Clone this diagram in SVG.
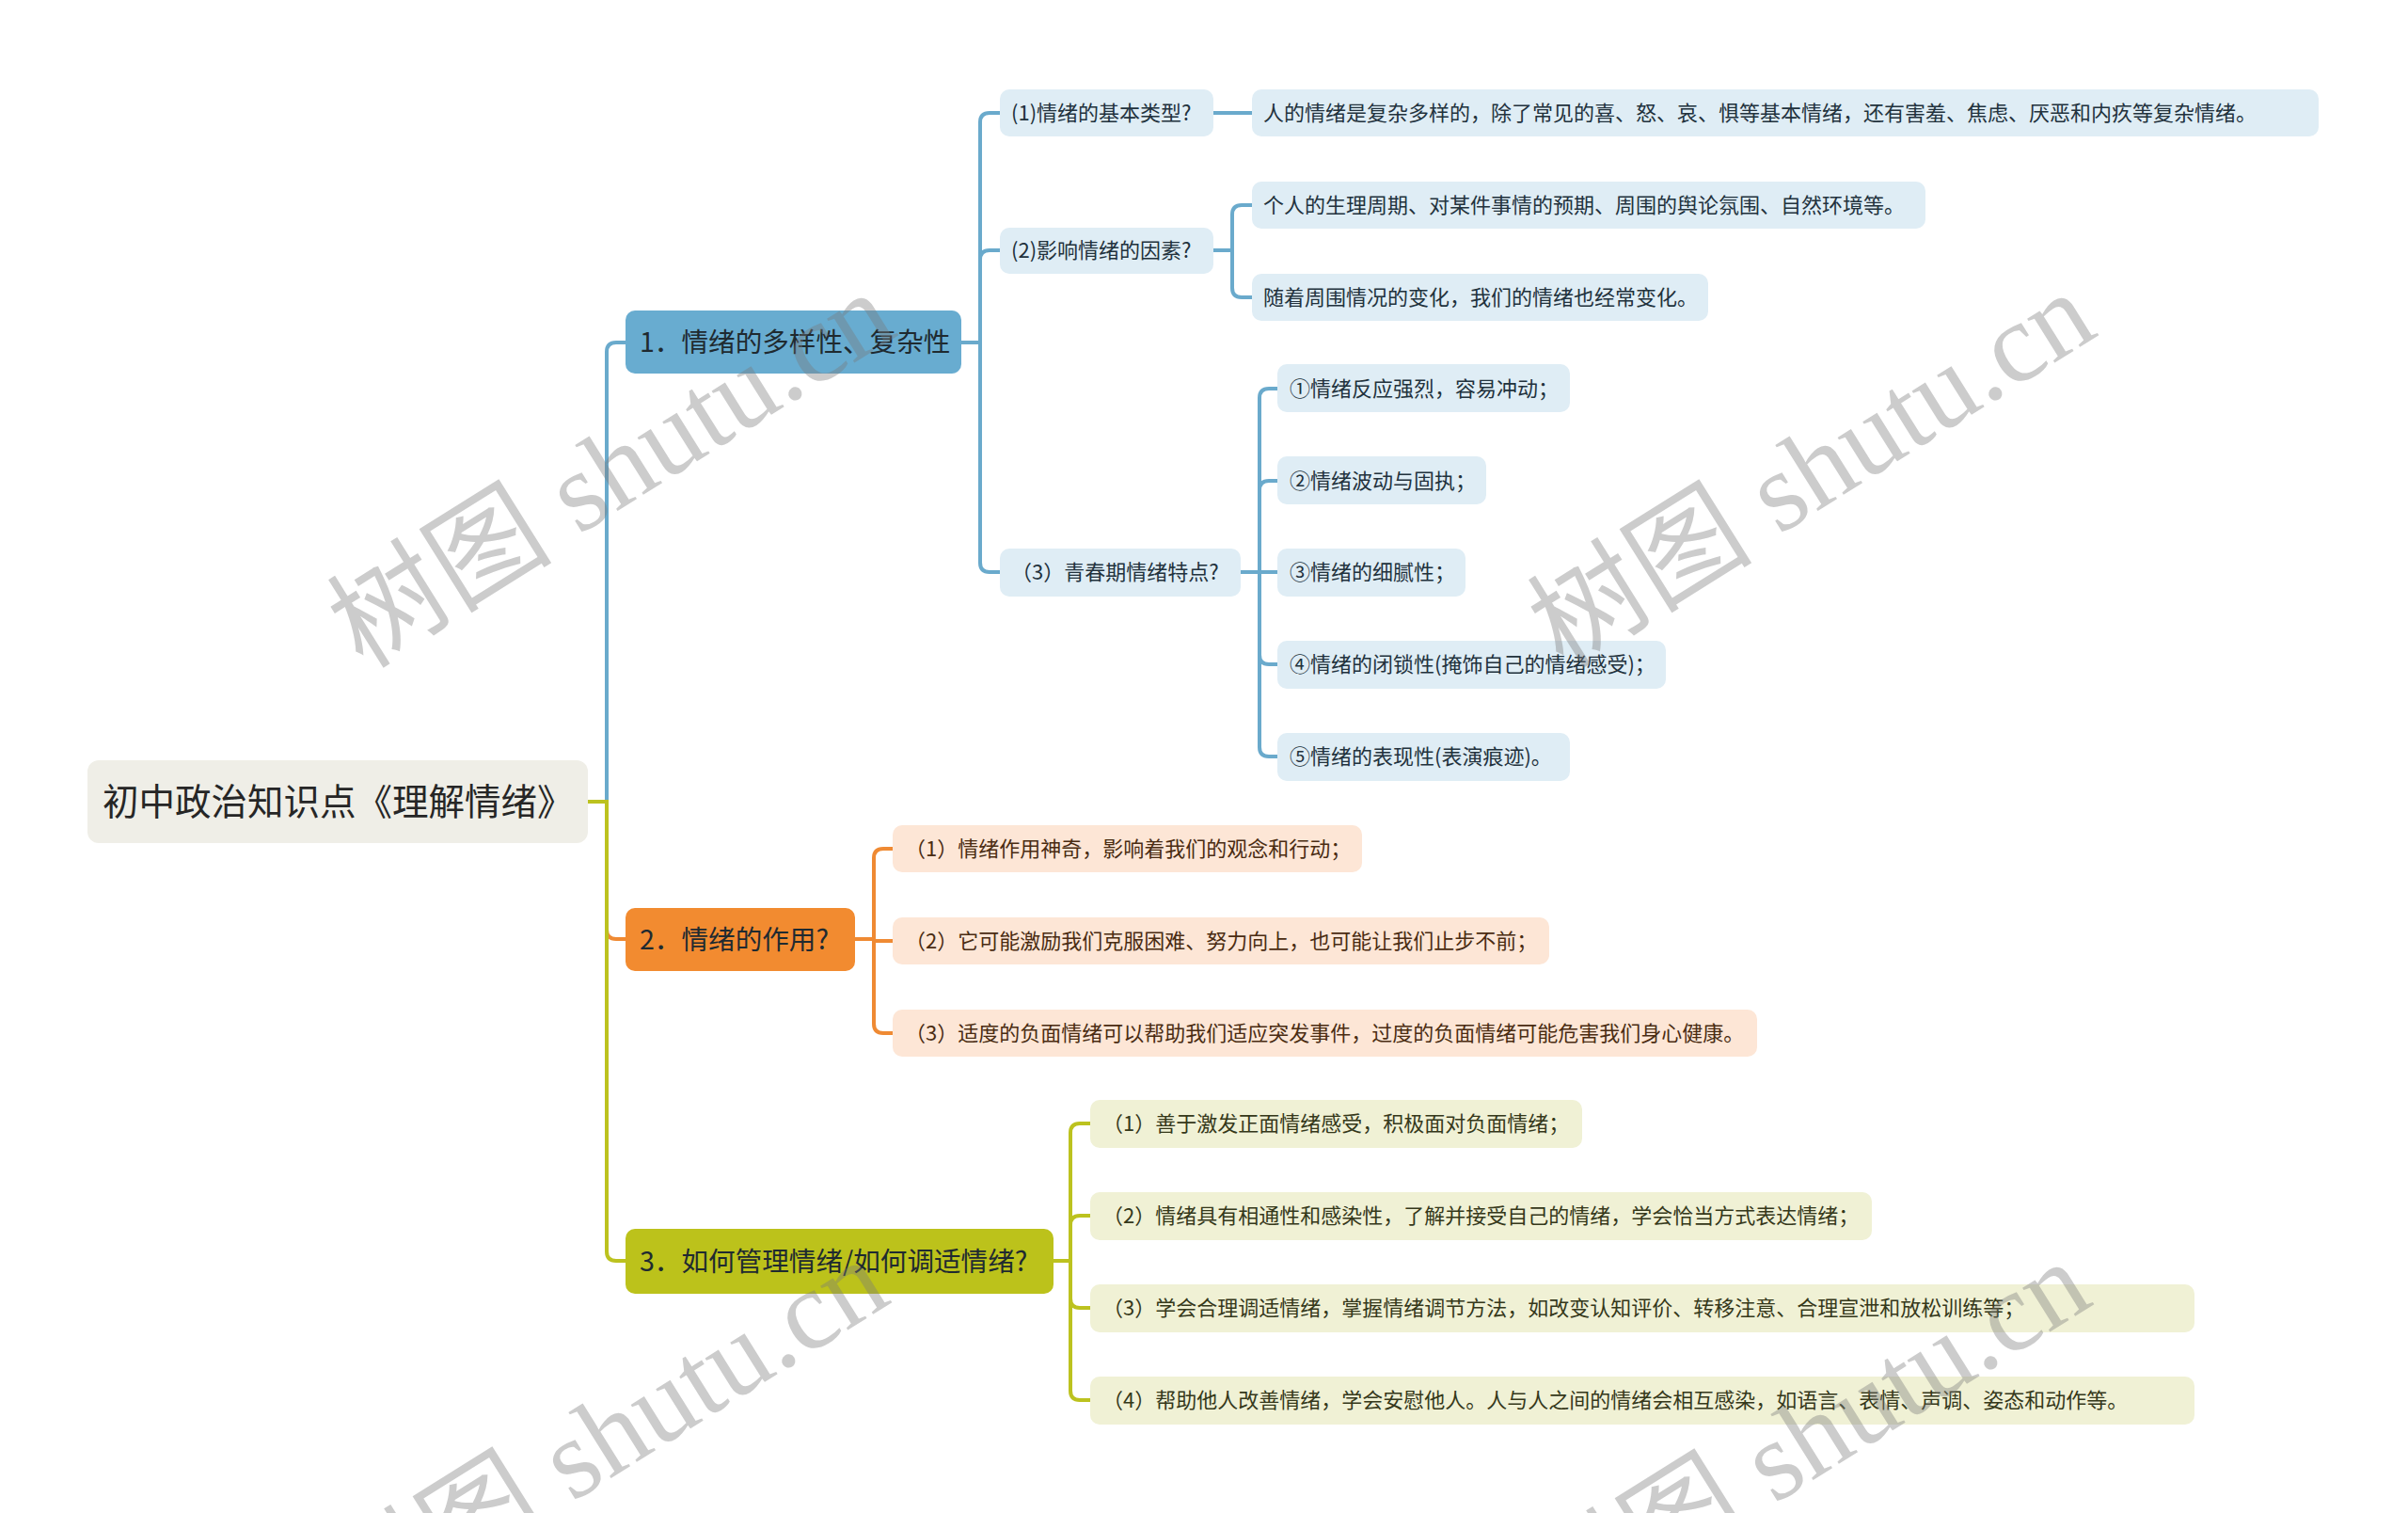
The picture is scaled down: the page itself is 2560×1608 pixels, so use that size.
<svg xmlns="http://www.w3.org/2000/svg" width="2560" height="1608" viewBox="0 0 2560 1608">
<style>
text{font-family:"Noto Sans CJK SC","Noto Sans",sans-serif;}
.l1{font-size:28.6px;fill:#1f2a30;}
.l2{font-size:22px;}
.tb{fill:#22323d;}
.to{fill:#4a2c12;}
.tg{fill:#35381a;}
.bb{fill:#dfedf5;}
.bo{fill:#fde6d6;}
.bg{fill:#f0f1d5;}
.cb{fill:none;stroke:#6aaacc;stroke-width:4;}
.co{fill:none;stroke:#ef8a33;stroke-width:4;}
.cg{fill:none;stroke:#bcc21f;stroke-width:4;}
.wm{font-family:"Liberation Serif","Noto Sans CJK SC",serif;font-size:120px;fill:#7a7a7a;opacity:0.38;}
</style>
<rect width="2560" height="1608" fill="#ffffff"/>
<g id="connectors">
<path class="cb" d="M625,852 H645 V374 Q645,364 655,364 H665"/>
<path class="co" d="M625,852 H645 V988 Q645,998 655,998 H665"/>
<path class="cg" d="M625,852 H645 V1330 Q645,1340 655,1340 H665"/>
<path class="cb" d="M1022,364 H1042 V130 Q1042,120 1052,120 H1063"/>
<path class="cb" d="M1022,364 H1042 V276 Q1042,266 1052,266 H1063"/>
<path class="cb" d="M1022,364 H1042 V598 Q1042,608 1052,608 H1063"/>
<path class="cb" d="M1290,120 H1331"/>
<path class="cb" d="M1290,266 H1310 V228 Q1310,218 1320,218 H1331"/>
<path class="cb" d="M1290,266 H1310 V306 Q1310,316 1320,316 H1331"/>
<path class="cb" d="M1319,608 H1339 V423 Q1339,413 1349,413 H1358"/>
<path class="cb" d="M1319,608 H1339 V521 Q1339,511 1349,511 H1358"/>
<path class="cb" d="M1319,608 H1358"/>
<path class="cb" d="M1319,608 H1339 V696 Q1339,706 1349,706 H1358"/>
<path class="cb" d="M1319,608 H1339 V794 Q1339,804 1349,804 H1358"/>
<path class="co" d="M909,998 H929 V912 Q929,902 939,902 H949"/>
<path class="co" d="M909,998 H929 V1000 H949"/>
<path class="co" d="M909,998 H929 V1088 Q929,1098 939,1098 H949"/>
<path class="cg" d="M1120,1340 H1138 V1204 Q1138,1194 1148,1194 H1159"/>
<path class="cg" d="M1120,1340 H1138 V1302 Q1138,1292 1148,1292 H1159"/>
<path class="cg" d="M1120,1340 H1138 V1380 Q1138,1390 1148,1390 H1159"/>
<path class="cg" d="M1120,1340 H1138 V1478 Q1138,1488 1148,1488 H1159"/>
</g>
<g id="root">
<rect x="93" y="808" width="532" height="88" rx="12" fill="#efeee7"/>
<text x="109" y="866" font-size="38.5" fill="#262626">初中政治知识点《理解情绪》</text>
</g>
<g id="n1">
<rect x="665" y="330" width="357" height="67" rx="10" fill="#68acd0"/>
<text class="l1" x="680" y="374">1．情绪的多样性、复杂性</text>
</g>
<g id="n2">
<rect x="665" y="965" width="244" height="67" rx="10" fill="#f28b30"/>
<text class="l1" x="680" y="1009">2．情绪的作用?</text>
</g>
<g id="n3">
<rect x="665" y="1306" width="455" height="69" rx="10" fill="#bcc21b"/>
<text class="l1" x="680" y="1351">3．如何管理情绪/如何调适情绪?</text>
</g>
<g id="n1a">
<rect class="bb" x="1063" y="95" width="227" height="50" rx="10"/>
<text class="l2 tb" x="1075" y="128">(1)情绪的基本类型?</text>
</g>
<g id="n1a1">
<rect class="bb" x="1331" y="95" width="1134" height="50" rx="10"/>
<text class="l2 tb" x="1343" y="128">人的情绪是复杂多样的，除了常见的喜、怒、哀、惧等基本情绪，还有害羞、焦虑、厌恶和内疚等复杂情绪。</text>
</g>
<g id="n1b">
<rect class="bb" x="1063" y="242" width="227" height="49" rx="10"/>
<text class="l2 tb" x="1075" y="274">(2)影响情绪的因素?</text>
</g>
<g id="n1b1">
<rect class="bb" x="1331" y="193" width="716" height="50" rx="10"/>
<text class="l2 tb" x="1343" y="226">个人的生理周期、对某件事情的预期、周围的舆论氛围、自然环境等。</text>
</g>
<g id="n1b2">
<rect class="bb" x="1331" y="291" width="485" height="50" rx="10"/>
<text class="l2 tb" x="1343" y="324">随着周围情况的变化，我们的情绪也经常变化。</text>
</g>
<g id="n1c">
<rect class="bb" x="1063" y="583" width="256" height="51" rx="10"/>
<text class="l2 tb" x="1075" y="616">（3）青春期情绪特点?</text>
</g>
<g id="n1c1">
<rect class="bb" x="1358" y="387" width="311" height="51" rx="10"/>
<text class="l2 tb" x="1371" y="421">①情绪反应强烈，容易冲动；</text>
</g>
<g id="n1c2">
<rect class="bb" x="1358" y="485" width="222" height="51" rx="10"/>
<text class="l2 tb" x="1371" y="519">②情绪波动与固执；</text>
</g>
<g id="n1c3">
<rect class="bb" x="1358" y="583" width="200" height="51" rx="10"/>
<text class="l2 tb" x="1371" y="616">③情绪的细腻性；</text>
</g>
<g id="n1c4">
<rect class="bb" x="1358" y="681" width="413" height="51" rx="10"/>
<text class="l2 tb" x="1371" y="714">④情绪的闭锁性(掩饰自己的情绪感受)；</text>
</g>
<g id="n1c5">
<rect class="bb" x="1358" y="779" width="311" height="51" rx="10"/>
<text class="l2 tb" x="1371" y="812">⑤情绪的表现性(表演痕迹)。</text>
</g>
<g id="n2a">
<rect class="bo" x="949" y="877" width="499" height="50" rx="10"/>
<text class="l2 to" x="962" y="910">（1）情绪作用神奇，影响着我们的观念和行动；</text>
</g>
<g id="n2b">
<rect class="bo" x="949" y="975" width="698" height="50" rx="10"/>
<text class="l2 to" x="962" y="1008">（2）它可能激励我们克服困难、努力向上，也可能让我们止步不前；</text>
</g>
<g id="n2c">
<rect class="bo" x="949" y="1073" width="919" height="50" rx="10"/>
<text class="l2 to" x="962" y="1106">（3）适度的负面情绪可以帮助我们适应突发事件，过度的负面情绪可能危害我们身心健康。</text>
</g>
<g id="n3a">
<rect class="bg" x="1159" y="1169" width="523" height="51" rx="10"/>
<text class="l2 tg" x="1172" y="1202">（1）善于激发正面情绪感受，积极面对负面情绪；</text>
</g>
<g id="n3b">
<rect class="bg" x="1159" y="1267" width="831" height="51" rx="10"/>
<text class="l2 tg" x="1172" y="1300">（2）情绪具有相通性和感染性，了解并接受自己的情绪，学会恰当方式表达情绪；</text>
</g>
<g id="n3c">
<rect class="bg" x="1159" y="1365" width="1174" height="51" rx="10"/>
<text class="l2 tg" x="1172" y="1398">（3）学会合理调适情绪，掌握情绪调节方法，如改变认知评价、转移注意、合理宣泄和放松训练等；</text>
</g>
<g id="n3d">
<rect class="bg" x="1159" y="1463" width="1174" height="51" rx="10"/>
<text class="l2 tg" x="1172" y="1496">（4）帮助他人改善情绪，学会安慰他人。人与人之间的情绪会相互感染，如语言、表情、声调、姿态和动作等。</text>
</g>
<g id="watermarks">
<text class="wm" transform="translate(386,712) rotate(-32)">树图 shutu.cn</text>
<text class="wm" transform="translate(1662,712) rotate(-32)">树图 shutu.cn</text>
<text class="wm" transform="translate(379,1740) rotate(-32)">树图 shutu.cn</text>
<text class="wm" transform="translate(1657,1742) rotate(-32)">树图 shutu.cn</text>
</g>
</svg>
